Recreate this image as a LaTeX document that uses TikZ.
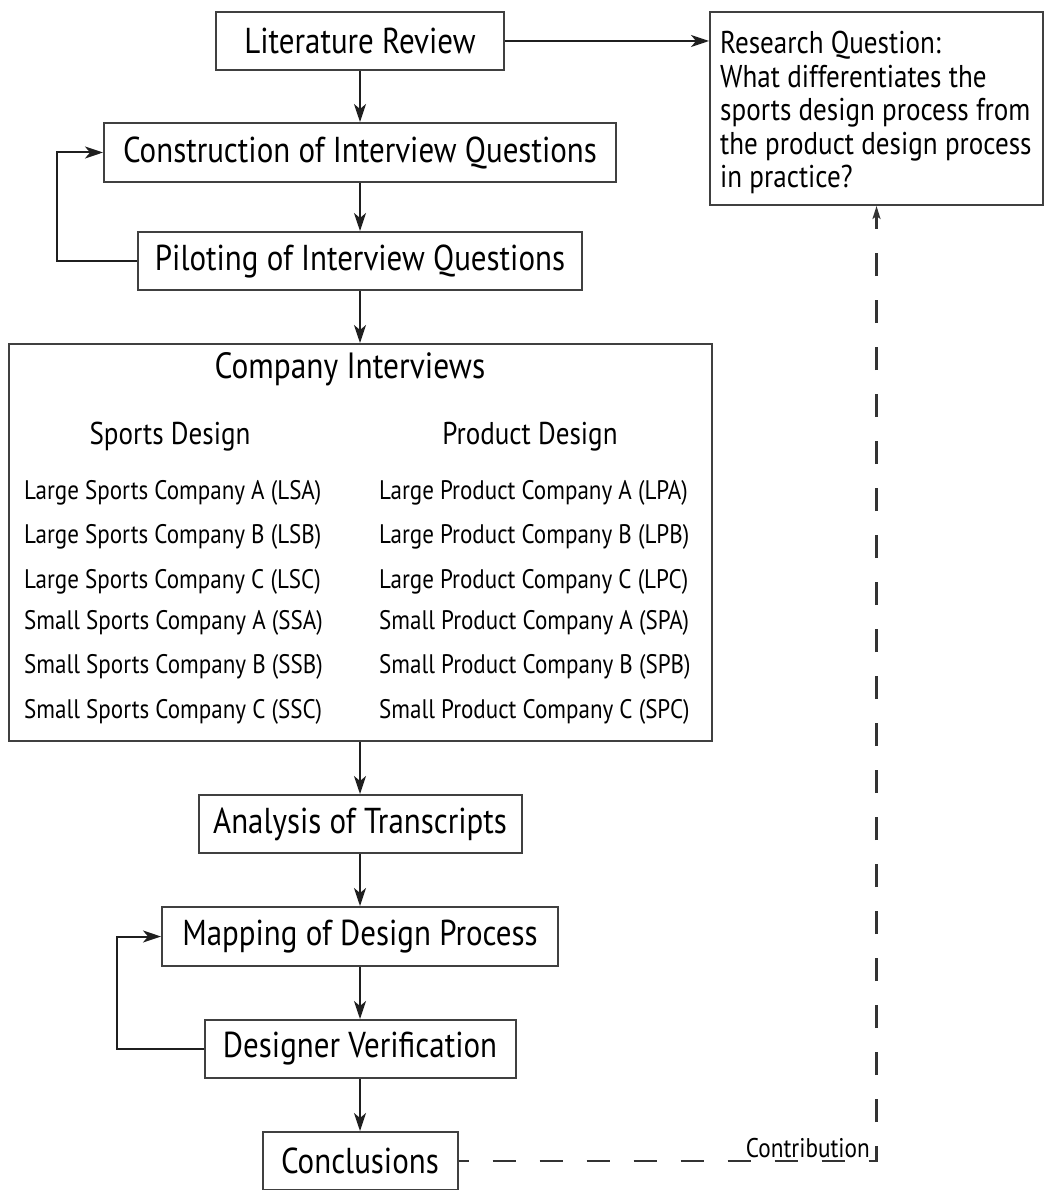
\documentclass[tikz,border=0pt]{standalone}
\usepackage{fontspec}
\setmainfont{PT Sans}[FakeStretch=0.86]
\usetikzlibrary{arrows.meta}
\begin{document}
\begin{tikzpicture}[x=1pt,y=-1pt,
  box/.style={draw=black!75, line width=2pt, inner sep=0pt, font=\fontsize{36}{42}\selectfont},
  frame/.style={draw=black!75, line width=2pt, inner sep=0pt},
  flow/.style={draw=black!88, line width=2pt, -{Stealth[length=18pt,width=12pt,inset=5pt]}},
  contrib/.style={draw=black!80, line width=2.2pt, dash pattern=on 23pt off 24pt, dash phase=13pt},
  item/.style={anchor=west, inner sep=0pt, font=\fontsize{26.8}{30}\selectfont},
  head/.style={inner sep=0pt, font=\fontsize{31.5}{36}\selectfont}]
\useasboundingbox (0,0) rectangle (1046,1190);

% main process boxes
\node[box, minimum width=288pt, minimum height=58pt] (lit) at (360,41) {Literature Review};
\node[box, minimum width=512pt, minimum height=59pt] (cons) at (360,152.5) {Construction of Interview Questions};
\node[box, minimum width=444pt, minimum height=58pt] (pilot) at (360,261) {Piloting of Interview Questions};
\node[frame, minimum width=703pt, minimum height=397pt] (comp) at (360,542.5) {};
\node[box, minimum width=323pt, minimum height=58pt] (anal) at (360,824) {Analysis of Transcripts};
\node[box, minimum width=396pt, minimum height=59pt] (map) at (360,936.5) {Mapping of Design Process};
\node[box, minimum width=311pt, minimum height=58pt] (ver) at (360,1049) {Designer Verification};
\node[box, minimum width=195pt, minimum height=58pt] (conc) at (360,1161) {Conclusions};

% research question
\node[frame, minimum width=333pt, minimum height=193pt] (rq) at (876.5,108.5) {};
\node[anchor=north west, inner sep=0pt, align=left, font=\fontsize{31.5}{33.5}\selectfont] (rqt) at (720,31)
  {Research Question:\\What differentiates the\\sports design process from\\the product design process\\in practice?};

% company interviews contents
\node[inner sep=0pt, font=\fontsize{36.5}{42}\selectfont] (ci) at (350,369) {Company Interviews};
\node[head] (sd) at (170,437) {Sports Design};
\node[head] (pd) at (530,437) {Product Design};
\node[item] (s1) at (24,493) {Large Sports Company A (LSA)};
\node[item] (s2) at (24,537) {Large Sports Company B (LSB)};
\node[item] (s3) at (24,582) {Large Sports Company C (LSC)};
\node[item] (s4) at (24,623) {Small Sports Company A (SSA)};
\node[item] (s5) at (24,667) {Small Sports Company B (SSB)};
\node[item] (s6) at (24,712) {Small Sports Company C (SSC)};
\node[item] (p1) at (379,493) {Large Product Company A (LPA)};
\node[item] (p2) at (379,537) {Large Product Company B (LPB)};
\node[item] (p3) at (379,582) {Large Product Company C (LPC)};
\node[item] (p4) at (379,623) {Small Product Company A (SPA)};
\node[item] (p5) at (379,667) {Small Product Company B (SPB)};
\node[item] (p6) at (379,712) {Small Product Company C (SPC)};

% connectors
\draw[flow] (lit.east) -- (lit.east -| rq.west);
\draw[flow] (lit.south) -- (cons.north);
\draw[flow] (cons.south) -- (pilot.north);
\draw[flow] (pilot.west) -- ++(-80,0) |- (cons.west);
\draw[flow] (pilot.south) -- (comp.north);
\draw[flow] (comp.south) -- (anal.north);
\draw[flow] (anal.south) -- (map.north);
\draw[flow] (map.south) -- (ver.north);
\draw[flow] (ver.west) -- ++(-87,0) |- (map.west);
\draw[flow] (ver.south) -- (conc.north);

% contribution back to the research question
\coordinate (turn) at (rq.south |- conc.east);
\draw[contrib, -{Stealth[length=13pt,width=8pt,inset=3pt]}] (conc.east) -- (turn) -- (rq.south);
\node[anchor=base east, inner sep=0pt, font=\fontsize{27}{30}\selectfont] (cl) at (870,1157) {Contribution};
\end{tikzpicture}
\end{document}
